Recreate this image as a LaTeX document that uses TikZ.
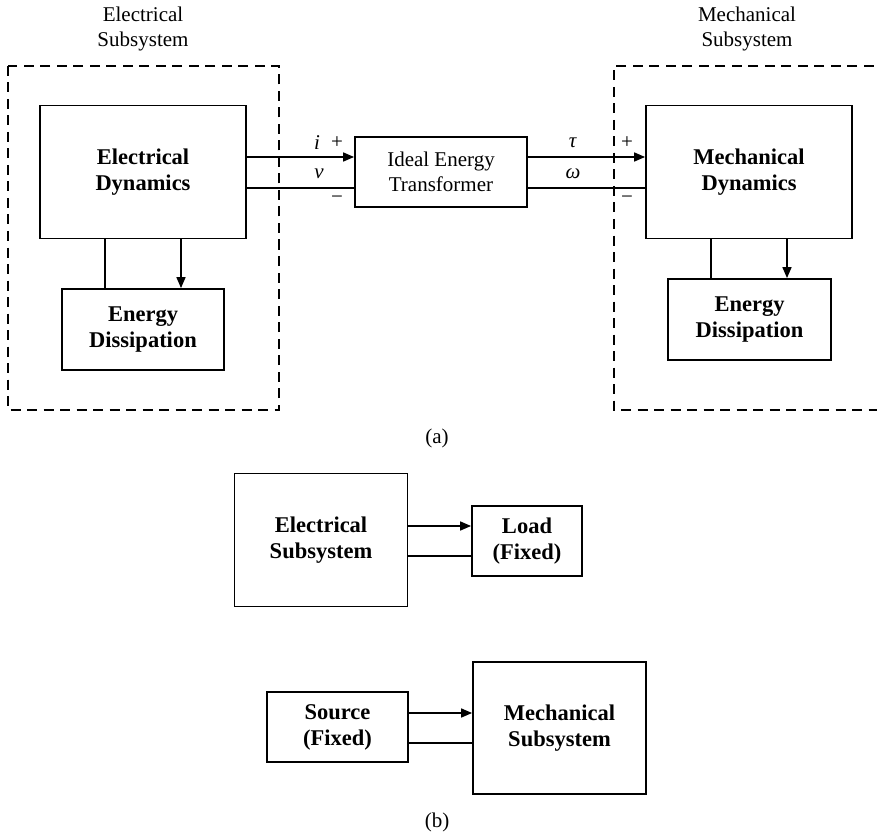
\documentclass[tikz,border=0pt]{standalone}
\usepackage{fontspec}
\setmainfont{Liberation Serif}
\usetikzlibrary{arrows.meta,positioning}
\tikzset {
  >={Triangle[length=11pt,width=9pt]},
  every node/.style={font=\fontsize{21}{25}\selectfont},
  block/.style={draw,line width=1.8pt,align=center,inner sep=0pt,
    font=\fontsize{22.5}{26}\selectfont\bfseries},
  subbox/.style={draw,line width=1.8pt,dash pattern=on 10pt off 6.5pt},
  wire/.style={line width=1.6pt},
}

\begin{document}
\begin{tikzpicture}[x=1pt,y=-1pt]
          \useasboundingbox (0,0) rectangle (877,834);
          % (a)
          \node (eltitle) at (143,29)[align=center]{Electrical\\Subsystem};
          \node (mechtitle) at (747,29)[align=center]{Mechanical\\Subsystem};
          \draw[subbox] (8,66) rectangle (279,410);
          \draw[subbox] (890,66) -- (614,66) -- (614,410) -- (890,410);
          \node (eldyn) at (143,172)[block,minimum width=206pt,minimum height=133pt]{Electrical\\Dynamics};
          \node (eldiss) at (143,329.5)[block,minimum width=162pt,minimum height=81pt]{Energy\\Dissipation};
          \node (ideal) at (441,172)[block,font=\fontsize{21}{25}\selectfont,minimum width=172pt,minimum height=70pt]{Ideal Energy\\Transformer};
          \node (mechdyn) at (749,172)[block,minimum width=206pt,minimum height=133pt]{Mechanical\\Dynamics};
          \node (mechdiss) at (749.5,319.5)[block,minimum width=163pt,minimum height=81pt]{Energy\\Dissipation};
          \draw[wire,->] ([yshift=15pt]eldyn.east) -- ([yshift=15pt]eldyn.east -| ideal.west);
          \draw[wire] ([yshift=-16pt]eldyn.east) -- ([yshift=-16pt]eldyn.east -| ideal.west);
          \draw[wire,->] ([yshift=15pt]ideal.east) -- ([yshift=15pt]ideal.east -| mechdyn.west);
          \draw[wire] ([yshift=-16pt]ideal.east) -- ([yshift=-16pt]ideal.east -| mechdyn.west);
          \draw[wire] ([xshift=-38pt]eldyn.south) -- ([xshift=-38pt]eldyn.south |- eldiss.north);
          \draw[wire,->] ([xshift=38pt]eldyn.south) -- ([xshift=38pt]eldyn.south |- eldiss.north);
          \draw[wire] ([xshift=-38pt]mechdyn.south) -- ([xshift=-38pt]mechdyn.south |- mechdiss.north);
          \draw[wire,->] ([xshift=38pt]mechdyn.south) -- ([xshift=38pt]mechdyn.south |- mechdiss.north);
          \node (ilab) at (317,143){\textit{i}};
          \node (vlab) at (319,174){\textit{ν}};
          \node (tlab) at (573,143){\textit{τ}};
          \node (wlab) at (573,174){\textit{ω}};
          \node (iplus) at (337,143){+};
          \node (iminus) at (337,200){−};
          \node (tplus) at (627,143){+};
          \node (tminus) at (627,200){−};
          \node (capa) at (437,438){(a)};
          % (b)
          \node (elsub) at (321,540)[block,minimum width=173pt,minimum height=133pt]{Electrical\\Subsystem};
          \node (load) at (527,541)[block,minimum width=110pt,minimum height=70pt]{Load\\(Fixed)};
          \draw[wire,->] ([yshift=15pt]load.west -| elsub.east) -- ([yshift=15pt]load.west);
          \draw[wire] ([yshift=-15pt]load.west -| elsub.east) -- ([yshift=-15pt]load.west);
          \node (source) at (337.5,727)[block,minimum width=141pt,minimum height=70pt]{Source\\(Fixed)};
          \node (mechsub) at (559.5,728)[block,minimum width=173pt,minimum height=132pt]{Mechanical\\Subsystem};
          \draw[wire,->] ([yshift=14pt]source.east) -- ([yshift=14pt]source.east -| mechsub.west);
          \draw[wire] ([yshift=-16pt]source.east) -- ([yshift=-16pt]source.east -| mechsub.west);
          \node (capb) at (437,822){(b)};
        \end{tikzpicture}
\end{document}
